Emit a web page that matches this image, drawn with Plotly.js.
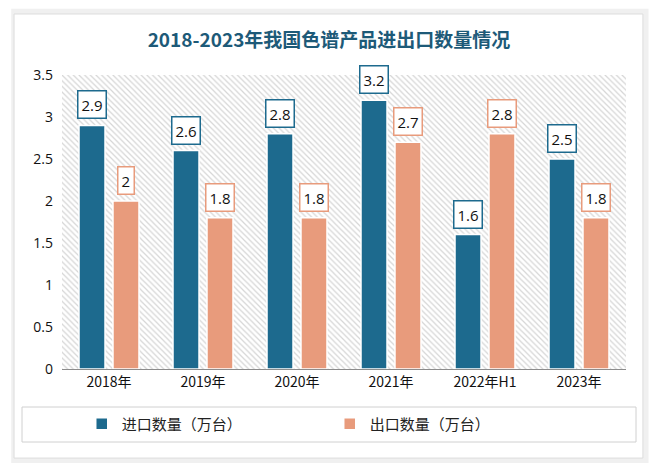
<!DOCTYPE html>
<html><head><meta charset="utf-8">
<script src="https://cdn.plot.ly/plotly-3.0.1.min.js"></script>
<style>html,body{margin:0;padding:0;background:#fff;}#chart{width:658px;height:469px;}</style>
</head><body><div id="chart"></div>
<script>
const categories = ['2018年','2019年','2020年','2021年','2022年H1','2023年'];
const importVals = [2.9, 2.6, 2.8, 3.2, 1.6, 2.5];
const exportVals = [2.0, 1.8, 1.8, 2.7, 2.8, 1.8];
const seriesNames = ['进口数量（万台）','出口数量（万台）'];
const colors = ['#1d6a8e', '#e89b7c'];
const yMax = 3.5;

const bargap = 0.277, bargroupgap = 0.235;
const off = (1 - bargap) / 4;  // center offset of each bar in category units
const idx = categories.map((c, i) => i);

const traces = [
  // hatched plot-area background, spanning the full axis ranges (base axis x2, drawn underneath)
  {type:'bar', x:[0.5], y:[yMax], width:[1], xaxis:'x2', yaxis:'y', showlegend:false, hoverinfo:'skip',
   marker:{color:'#ffffff', line:{width:0}, pattern:{shape:'\\', fgcolor:'#d6d6d6', bgcolor:'#ffffff', size:4, solidity:0.3}}},
  {type:'bar', name:seriesNames[0], x:idx, y:importVals, xaxis:'x', yaxis:'y',
   marker:{color:colors[0], line:{color:'#ffffff', width:1.5}}},
  {type:'bar', name:seriesNames[1], x:idx, y:exportVals, xaxis:'x', yaxis:'y',
   marker:{color:colors[1], line:{color:'#ffffff', width:1.5}}}
];

const annotations = [];
[importVals, exportVals].forEach((vals, s) => {
  vals.forEach((v, i) => {
    annotations.push({x: i + (s === 0 ? -off : off), y: v, xref:'x', yref:'y',
      text: String(v), showarrow:false, yanchor:'bottom', yshift:6,
      font:{family:'"Open Sans", "Noto Sans", sans-serif', size:15, color:'#111'},
      bgcolor:'#ffffff', bordercolor:colors[s], borderwidth:1.5, borderpad:3});
  });
});

const layout = {
  width:658, height:469,
  margin:{l:62, r:32, t:75, b:100},
  paper_bgcolor:'#ffffff', plot_bgcolor:'rgba(0,0,0,0)',
  title:{text:'2018-2023年我国色谱产品进出口数量情况', x:0.5, xanchor:'center', y:0.915, yanchor:'middle',
    font:{family:'"Noto Sans CJK SC", sans-serif', size:19, color:'#1d5a78', weight:'bold'}},
  barmode:'group', bargap:bargap, bargroupgap:bargroupgap,
  xaxis2:{range:[0,1], visible:false, fixedrange:true, anchor:'y'},
  xaxis:{overlaying:'x2', anchor:'y', tickmode:'array', tickvals:idx, ticktext:categories, range:[-0.5, 5.5],
    showline:true, linecolor:'#8c8c8c', linewidth:1, ticks:'', showgrid:false, zeroline:false,
    tickfont:{family:'"Noto Sans CJK SC", sans-serif', size:14, color:'#111'}},
  yaxis:{range:[0,yMax], dtick:0.5, showgrid:false, zeroline:false, showline:false, ticks:'',
    tickfont:{family:'"Open Sans", "Noto Sans", sans-serif', size:14, color:'#111'}, ticklabelstandoff:8},
  showlegend:true,
  legend:{orientation:'h', x:0.035, xanchor:'left', y:-0.187, yanchor:'middle', entrywidth:203,
    font:{family:'"Noto Sans CJK SC", sans-serif', size:15, color:'#222'}, bgcolor:'rgba(0,0,0,0)'},
  annotations: annotations,
  shapes:[
    {type:'rect', xref:'paper', yref:'paper', x0:-0.09, x1:1.04, y0:-0.32, y1:1.225, layer:'below',
      fillcolor:'#f0f0f0', line:{width:0}},
    {type:'rect', xref:'paper', yref:'paper', x0:-0.085, x1:1.030, y0:-0.303, y1:1.2075, layer:'below',
      fillcolor:'#ffffff', line:{color:'#dcdcdc', width:1}},
    {type:'rect', xref:'paper', yref:'paper', x0:(22-62)/564, x1:(636-62)/564, y0:(369-442)/294, y1:(369-407)/294,
      layer:'below', fillcolor:'rgba(0,0,0,0)', line:{color:'#d0d0d0', width:1}}
  ]
};

Plotly.newPlot('chart', traces, layout, {displayModeBar:false, staticPlot:true});
</script></body></html>
